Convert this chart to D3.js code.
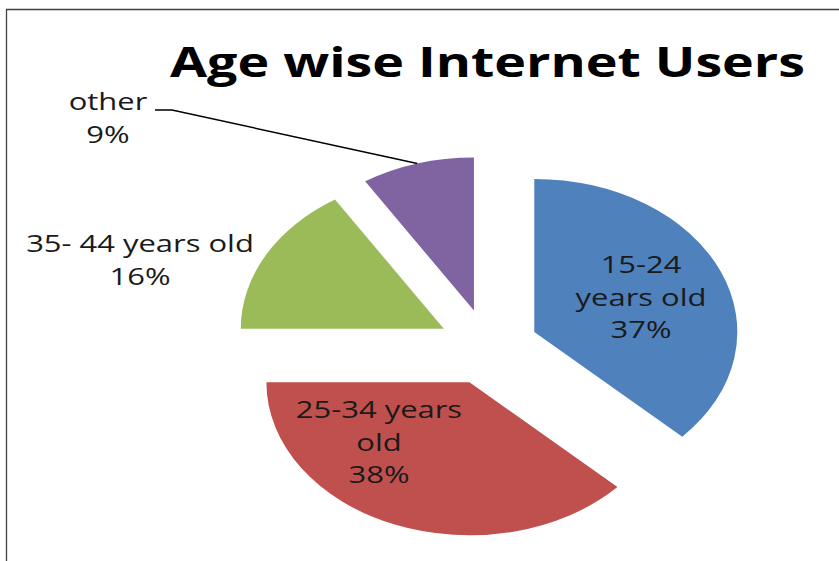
<!DOCTYPE html>
<html>
<head>
<meta charset="utf-8">
<script src="https://cdn.jsdelivr.net/npm/d3@7/dist/d3.min.js"></script>
<style>
  html, body { margin: 0; padding: 0; background: #fff; }
  svg { display: block; }
</style>
</head>
<body>
<svg id="chart" width="839" height="561"></svg>
<script>
// Age groups and their share of internet users (percent)
const categories = ["15-24 years old", "25-34 years old", "35-44 years old", "other"];
const shares = [37, 38, 16, 9];
// How each category name wraps inside its data label
const labelLines = [["15-24", "years old"], ["25-34 years", "old"], ["35- 44 years old"], ["other"]];
const colors = ["#4F81BD", "#C0504D", "#9BBB59", "#8064A2"];
const title = "Age wise Internet Users";

const W = 839, H = 561;
const svg = d3.select("#chart");

// frame of the chart area
svg.append("path")
  .attr("d", `M6.5,${H} V9.5 H${W}`)
  .attr("fill", "none")
  .attr("stroke", "#404040")
  .attr("stroke-width", 1.3);

// pie layout: drawn as a circle and stretched horizontally into an ellipse
const cx = 488, cy = 347, R = 153, SX = 1.327;
const explode = 38;

const pie = d3.pie().sort(null).value(d => d).startAngle(0).endAngle(2 * Math.PI);
const arcs = pie(shares);
const arc = d3.arc().innerRadius(0).outerRadius(R);

const mid = a => (a.startAngle + a.endAngle) / 2;
const sliceOrigin = a => [cx + SX * explode * Math.sin(mid(a)), cy - explode * Math.cos(mid(a))];

svg.append("g").selectAll("path")
  .data(arcs)
  .join("path")
  .attr("transform", a => {
    const [x, y] = sliceOrigin(a);
    return `translate(${x},${y}) scale(${SX},1)`;
  })
  .attr("d", arc)
  .attr("fill", (a, i) => colors[i]);

// title, stretched to span its box
const titleText = svg.append("text")
  .attr("text-anchor", "middle")
  .attr("font-family", "'Open Sans', sans-serif")
  .attr("font-weight", 700)
  .attr("font-size", 42)
  .attr("fill", "#000")
  .text(title);
const tw = titleText.node().getComputedTextLength();
titleText.attr("transform", `translate(487.5,77) scale(${635 / tw},1)`);

// data labels: [center x, first baseline]
const labelPos = [[641, 273], [379, 418], [140, 252], [108, 110]];
const lineH = 32.5;
const labelScale = 1.29;

categories.forEach((c, i) => {
  const lines = labelLines[i].concat([shares[i] + "%"]);
  const [lx, ly] = labelPos[i];
  lines.forEach((t, j) => {
    svg.append("text")
      .attr("transform", `translate(${lx},${ly + j * lineH}) scale(${labelScale},1)`)
      .attr("text-anchor", "middle")
      .attr("font-family", "'Open Sans', sans-serif")
      .attr("font-size", 24)
      .attr("fill", "#1a1a1a")
      .text(t);
  });
});

// leader line from the "other" label to its slice
const otherArc = arcs[3];
const [ox, oy] = sliceOrigin(otherArc);
const tipX = ox + SX * R * Math.sin(mid(otherArc));
const tipY = oy - R * Math.cos(mid(otherArc));
svg.append("path")
  .attr("d", `M155,110 H172 L${tipX},${tipY}`)
  .attr("fill", "none")
  .attr("stroke", "#000")
  .attr("stroke-width", 1.5);
</script>
</body>
</html>
